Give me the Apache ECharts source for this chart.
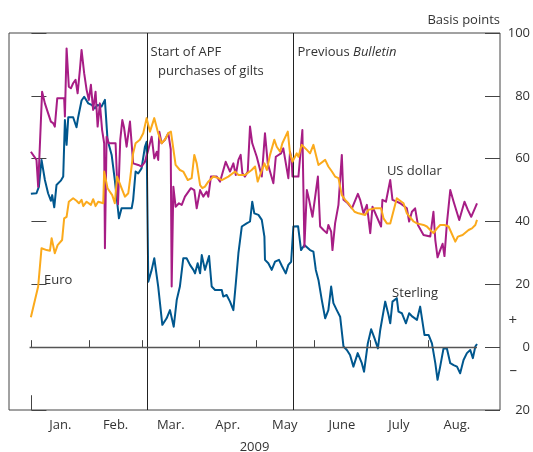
<!DOCTYPE html>
<html><head><meta charset="utf-8">
<script src="https://cdn.jsdelivr.net/npm/echarts@6/dist/echarts.min.js"></script>
<style>html,body{margin:0;padding:0;background:#fff}#c{width:533px;height:452px}</style>
</head><body><div id="c"></div>
<script>
// x = days since 1 Jan 2009, y = basis points
const monthStarts = [0, 31, 59, 90, 120, 151, 181, 212];
const monthMids = [15.5, 45, 74.5, 105, 135.5, 166, 196.5, 227.5];
const monthLabels = ['Jan.', 'Feb.', 'Mar.', 'Apr.', 'May', 'June', 'July', 'Aug.'];
const yTicks = [-20, 0, 20, 40, 60, 80, 100];
const yTickLabels = ['20', '0', '20', '40', '60', '80', '100'];
const plusMinusVals = [8.3, -7.4];
const plusMinusLabels = ['+', '\u2013'];
const apfDay = 61.9;
const bulletinDay = 140.1;

const sterling = [
[-0.3,48.8],[2.7,49.0],[4.0,51.1],[5.4,59.6],[7.2,53.2],[8.9,49.0],[10.4,46.6],[11.1,48.4],[12.2,44.5],[13.4,51.6],
[15.7,53.0],[17.0,54.3],[17.9,72.3],[18.8,64.4],[19.7,73.2],[22.3,73.2],[24.1,70.0],[25.0,73.2],[26.8,78.5],[28.2,79.7],
[30.4,77.6],[32.2,77.1],[33.9,76.0],[35.4,77.1],[37.5,76.6],[39.3,78.7],[40.7,66.0],[42.9,61.2],[44.6,53.2],[46.8,41.0],
[48.2,44.2],[53.6,44.2],[54.4,46.9],[55.7,55.9],[57.1,55.3],[58.9,56.9],[60.7,63.8],[61.6,65.4],[62.5,20.8],[64.3,24.6],
[65.7,28.3],[67.8,19.3],[70.0,7.1],[72.3,9.2],[74.1,11.8],[76.1,6.5],[77.7,15.0],[79.4,19.3],[81.2,28.3],[83.0,28.3],
[84.8,26.2],[86.6,24.6],[87.5,23.5],[88.9,26.7],[90.2,23.5],[91.1,29.3],[92.8,24.6],[95.0,29.0],[96.4,19.3],[98.2,18.2],
[101.8,18.2],[102.6,16.1],[104.4,16.6],[106.2,14.5],[108.0,11.8],[109.3,20.3],[110.7,29.9],[112.5,38.4],[115.1,39.4],[116.9,40.0],
[118.1,46.3],[119.2,42.6],[121.4,42.1],[123.2,40.5],[124.6,35.2],[124.9,27.8],[126.7,26.7],[128.5,24.6],[130.3,27.2],[132.4,27.8],
[133.9,25.9],[136.0,23.5],[137.4,26.2],[138.9,27.2],[140.1,38.4],[142.6,38.5],[144.2,30.9],[146.0,32.5],[149.0,30.9],[150.8,30.4],
[152.1,24.6],[153.5,21.4],[155.3,15.0],[157.1,9.2],[158.8,11.8],[160.3,19.3],[161.5,14.0],[163.3,11.8],[165.1,9.7],[166.9,0.2],
[168.7,-0.9],[170.4,-2.5],[172.2,-6.2],[174.5,-1.9],[176.7,-5.1],[177.9,-7.8],[179.9,1.2],[181.7,5.7],[183.5,2.8],[185.3,-0.4],
[186.5,5.3],[189.2,14.5],[191.0,10.2],[191.9,7.6],[193.1,14.5],[195.4,15.6],[196.3,11.3],[198.1,10.8],[200.3,7.6],[202.0,10.8],
[203.8,9.7],[206.2,8.7],[207.9,12.9],[210.2,3.9],[212.4,3.9],[214.2,1.2],[216.0,-5.1],[217.2,-10.4],[218.6,-6.2],[220.4,-0.4],
[222.2,-0.4],[224.0,-5.1],[225.8,-5.7],[227.6,-6.2],[229.3,-8.3],[231.1,-4.1],[232.9,-1.9],[234.7,-0.9],[236.1,-3.5],[237.4,0.2],
[238.3,1.0]
];

const usDollar = [
[-0.3,62.2],[2.7,59.6],[3.6,51.1],[5.7,81.3],[7.2,77.6],[8.9,74.5],[10.4,71.8],[11.6,71.3],[12.5,70.2],[13.8,79.2],
[17.5,79.2],[17.9,73.4],[18.8,95.1],[20.0,82.9],[21.1,82.4],[22.3,84.0],[23.6,85.1],[24.7,80.8],[25.9,88.2],[26.8,94.6],
[28.2,87.2],[29.5,81.9],[30.7,78.7],[31.8,83.5],[33.0,75.5],[34.3,81.3],[35.4,70.2],[36.6,77.6],[37.8,69.1],[38.9,64.9],
[39.3,31.5],[40.2,67.0],[41.4,64.9],[45.0,64.9],[46.3,45.5],[47.5,66.0],[48.6,72.3],[49.5,70.0],[50.9,63.8],[52.7,71.8],
[54.4,58.5],[57.1,58.0],[58.9,57.5],[60.7,59.0],[62.5,62.8],[64.3,67.0],[65.7,60.1],[67.0,62.2],[67.8,59.6],[68.4,68.6],
[69.6,64.9],[71.4,66.0],[73.2,68.1],[74.5,63.0],[75.0,19.3],[75.9,51.1],[77.1,44.7],[78.9,45.8],[80.4,45.3],[82.1,47.9],
[85.3,50.6],[87.1,50.0],[88.4,44.2],[90.2,50.0],[91.9,47.9],[93.7,49.5],[94.6,47.9],[96.0,54.3],[99.1,54.3],[100.9,52.7],
[103.9,59.0],[106.2,55.9],[108.0,58.5],[109.3,54.8],[110.7,59.6],[111.9,61.2],[112.8,55.4],[114.2,54.3],[115.7,55.9],[116.9,70.2],
[118.1,64.9],[120.5,60.6],[123.2,54.3],[124.9,68.1],[126.4,58.5],[127.6,55.9],[129.4,52.2],[130.7,60.6],[133.5,61.7],[134.7,63.3],
[137.4,53.8],[138.3,62.2],[139.2,59.6],[139.6,54.3],[142.8,54.3],[144.9,69.1],[146.0,32.0],[147.3,50.0],[148.5,46.9],[150.3,41.5],
[153.2,54.3],[154.4,38.4],[156.2,37.3],[158.0,36.3],[158.8,38.9],[160.3,36.8],[161.0,30.9],[162.4,39.4],[164.2,45.3],[166.0,61.2],
[166.9,46.9],[169.2,45.8],[171.4,44.2],[174.6,48.8],[175.8,46.9],[177.6,42.6],[179.4,45.3],[181.2,36.3],[182.4,44.7],[187.0,38.4],
[187.7,46.9],[189.6,46.3],[191.9,53.2],[193.1,46.9],[195.4,46.3],[197.2,45.8],[200.8,44.2],[202.0,40.0],[203.5,43.1],[205.2,44.2],
[206.7,38.9],[209.7,35.7],[213.3,35.2],[215.0,43.1],[216.0,34.1],[217.2,28.6],[218.6,30.9],[219.9,32.9],[220.9,29.0],[222.2,39.4],
[224.0,50.0],[225.8,46.3],[228.8,40.5],[231.6,46.3],[233.4,43.7],[235.2,41.5],[237.4,44.5],[238.3,45.8]
];

const euro = [
[-0.3,9.5],[3.6,19.3],[5.4,31.5],[8.1,30.9],[9.9,30.7],[10.8,34.7],[12.5,29.9],[14.0,32.5],[16.4,34.1],[17.5,41.0],
[18.8,41.5],[20.0,46.3],[22.3,47.4],[24.1,46.6],[25.4,45.8],[26.8,46.9],[27.7,44.9],[29.5,46.3],[31.8,45.3],[33.0,47.1],
[34.3,44.9],[35.7,46.3],[38.4,45.8],[38.9,55.9],[40.7,50.6],[43.2,48.4],[44.6,45.8],[45.8,54.3],[48.2,50.6],[50.0,47.9],
[51.8,49.0],[52.7,53.2],[54.4,61.7],[55.7,64.9],[58.0,66.0],[59.8,68.1],[61.6,72.9],[63.4,68.6],[65.7,72.9],[67.8,68.1],
[69.6,64.9],[71.4,66.0],[73.2,68.1],[74.6,68.6],[77.1,58.0],[79.4,56.4],[81.2,55.9],[83.6,53.2],[85.7,53.8],[87.1,61.2],
[88.4,58.5],[90.2,51.6],[91.4,50.6],[92.8,51.1],[94.6,52.7],[97.3,54.3],[100.0,53.8],[101.8,53.2],[105.3,54.3],[108.9,55.9],
[110.7,54.8],[114.2,54.8],[117.8,56.4],[119.6,57.5],[121.0,52.7],[122.3,54.8],[124.6,58.5],[125.9,56.4],[127.6,61.2],[129.9,66.0],
[131.2,63.8],[133.0,62.2],[134.2,64.9],[137.1,68.6],[138.3,61.7],[139.6,59.0],[141.9,61.7],[142.8,60.6],[144.6,64.4],[147.3,62.8],
[149.0,61.7],[150.8,64.4],[153.5,58.0],[157.1,59.6],[158.8,57.5],[160.7,55.9],[162.4,54.3],[164.2,53.8],[166.0,48.4],[167.8,46.9],
[169.5,45.8],[172.8,43.1],[174.9,42.6],[178.5,42.1],[180.2,43.7],[183.8,44.2],[187.0,44.2],[188.3,41.0],[190.1,39.4],[191.9,39.4],
[195.4,47.4],[199.0,45.8],[200.8,42.6],[204.4,40.0],[206.2,39.4],[209.7,38.9],[211.5,38.4],[213.3,37.3],[215.0,36.3],[216.9,37.8],
[218.6,38.9],[220.9,38.9],[223.1,38.4],[226.7,33.6],[228.1,35.2],[230.6,35.7],[233.8,37.3],[235.6,37.8],[237.4,38.9],[238.3,40.5]
];

const FONT = '"Open Sans", "Noto Sans", sans-serif';
const TXT = '#333';
const chart = echarts.init(document.getElementById('c'), null, {renderer: 'canvas'});

const lbl = (txt, rich) => ({show: true, position: 'right', distance: 0, color: TXT, fontFamily: FONT, fontSize: 13, formatter: txt, rich: rich});

chart.setOption({
  animation: false,
  grid: {left: 9, right: 33, top: 33, bottom: 42, containLabel: false, outerBoundsMode: 'none',
         show: true, borderColor: '#444', borderWidth: 1, backgroundColor: 'transparent'},
  xAxis: {
    type: 'value', min: -12, max: 250.6,
    name: '2009', nameLocation: 'middle', nameGap: 31,
    nameTextStyle: {color: TXT, fontFamily: FONT, fontSize: 13},
    axisLine: {show: false},
    splitLine: {show: false},
    axisTick: {show: true, inside: true, length: 7, customValues: monthStarts, lineStyle: {color: '#444', width: 1}},
    axisLabel: {
      show: true, margin: 9, customValues: monthMids, color: TXT, fontFamily: FONT, fontSize: 13,
      formatter: v => { const i = monthMids.indexOf(v); return i >= 0 ? monthLabels[i] : ''; }
    }
  },
  yAxis: [
    {
      type: 'value', position: 'left', min: -20, max: 100, interval: 20,
      axisLine: {show: false}, splitLine: {show: false}, axisLabel: {show: false},
      axisTick: {show: true, inside: true, length: 15, customValues: yTicks, lineStyle: {color: '#444', width: 1}}
    },
    {
      type: 'value', position: 'right', min: -20, max: 100, interval: 20,
      name: 'Basis points', nameLocation: 'end', nameGap: 13,
      nameTextStyle: {color: TXT, fontFamily: FONT, fontSize: 13, align: 'right', verticalAlign: 'middle'},
      axisLine: {show: false}, splitLine: {show: false},
      axisTick: {show: true, inside: true, length: 15, customValues: yTicks, lineStyle: {color: '#444', width: 1}},
      axisLabel: {
        show: true, margin: 30, align: 'right', color: TXT, fontFamily: FONT, fontSize: 13,
        customValues: yTicks.concat(plusMinusVals),
        formatter: v => {
          let i = plusMinusVals.indexOf(v);
          if (i >= 0) return '{pm|' + plusMinusLabels[i] + '}';
          i = yTicks.indexOf(v);
          return i >= 0 ? yTickLabels[i] : '';
        },
        rich: {pm: {fontSize: 15, color: TXT, fontFamily: FONT, padding: [0, 13, 0, 0]}}
      }
    }
  ],
  series: [
    {
      name: 'Sterling', type: 'line', data: sterling, symbol: 'none', z: 3,
      lineStyle: {color: '#00578e', width: 2, join: 'round'},
      markLine: {
        silent: true, symbol: ['none', 'none'], label: {show: false},
        data: [
          {xAxis: apfDay, lineStyle: {color: '#222', width: 1, type: 'solid'}},
          {xAxis: bulletinDay, lineStyle: {color: '#222', width: 1, type: 'solid'}},
          [{coord: [-1, 0], lineStyle: {color: '#555', width: 1.3, type: 'solid'}}, {coord: [238.3, 0]}],
          [{coord: [0, -20], lineStyle: {color: '#444', width: 1, type: 'solid'}}, {coord: [0, -15.3]}]
        ]
      },
      markPoint: {
        silent: true, symbol: 'circle', symbolSize: 0,
        data: [
          {coord: [63.7, 94.0], label: lbl('Start of APF')},
          {coord: [67.7, 87.8], label: lbl('purchases of gilts')},
          {coord: [142.3, 94.0], label: lbl('{n|Previous }{i|Bulletin}', {n: {color: TXT, fontFamily: FONT, fontSize: 13}, i: {color: TXT, fontFamily: FONT, fontSize: 13, fontStyle: 'italic'}})},
          {coord: [190.1, 56.0], label: lbl('US dollar')},
          {coord: [6.7, 21.3], label: lbl('Euro')},
          {coord: [192.9, 17.0], label: lbl('Sterling')}
        ]
      }
    },
    {
      name: 'US dollar', type: 'line', data: usDollar, symbol: 'none', z: 4,
      lineStyle: {color: '#a71d85', width: 2, join: 'round'}
    },
    {
      name: 'Euro', type: 'line', data: euro, symbol: 'none', z: 5,
      lineStyle: {color: '#fbaa1c', width: 2, join: 'round'}
    }
  ]
});
</script></body></html>
